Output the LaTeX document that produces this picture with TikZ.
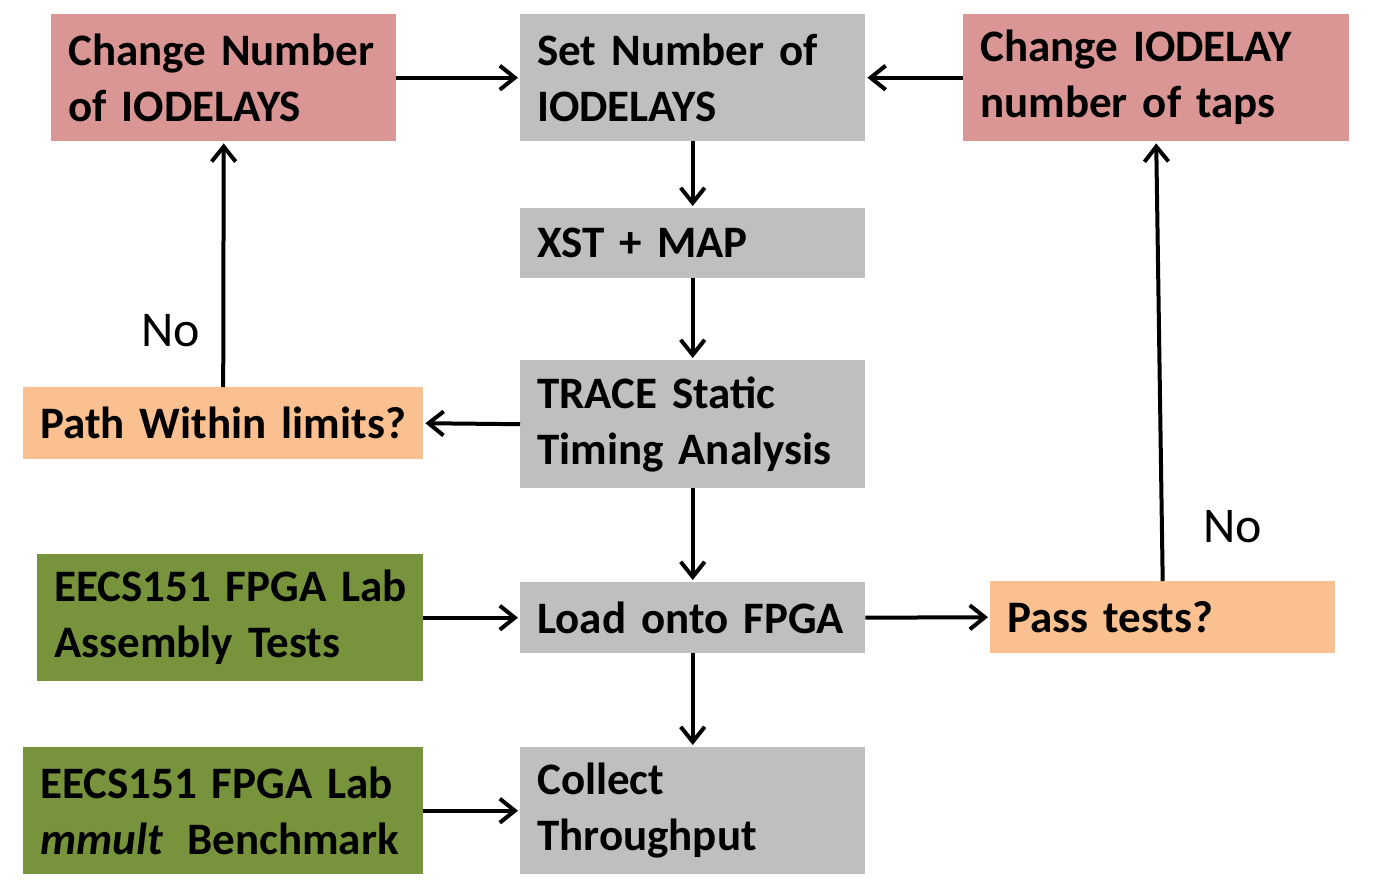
\documentclass[tikz,border=0pt]{standalone}
\usepackage{fontspec}
\setmainfont{Carlito}
\usetikzlibrary{arrows.meta}
\definecolor{redbox}{HTML}{D99694}
\definecolor{graybox}{HTML}{BFBFBF}
\definecolor{orangebox}{HTML}{FAC090}
\definecolor{greenbox}{HTML}{77933C}
\begin{document}
\begin{tikzpicture}[x=1pt,y=-1pt,
  box/.style={anchor=north west, inner xsep=17pt, inner ysep=0pt, align=left,
    font=\fontsize{45}{56}\selectfont\bfseries, text=black},
  redb/.style={box, fill=redbox},
  grayb/.style={box, fill=graybox},
  orangeb/.style={box, fill=orangebox},
  greenb/.style={box, fill=greenbox},
  conn/.style={line width=4pt, -{Straight Barb[length=15pt,width=24pt,line width=4pt]}, shorten >=2pt},
  lbl/.style={font=\fontsize{50}{56}\selectfont, text=black, inner sep=0pt}]
\useasboundingbox (0,0) rectangle (1378,889);
\node[redb, minimum width=345pt, minimum height=127pt, text width=311pt] (cn) at (51,14) {\mbox{Change Number}\\\mbox{of IODELAYS}};
\node[grayb, minimum width=345pt, minimum height=127pt, text width=311pt] (sn) at (520,14) {\mbox{Set Number of}\\\mbox{IODELAYS}};
\node[redb, minimum width=386pt, minimum height=127pt, text width=352pt] (ci) at (963,14) {\mbox{Change IODELAY}\\\mbox{number of taps}};
\node[grayb, minimum width=345pt, minimum height=70pt, text width=311pt] (xst) at (520,208) {\mbox{XST + MAP}};
\node[grayb, minimum width=345pt, minimum height=128pt, text width=311pt] (tr) at (520,360) {\mbox{TRACE Static}\\\mbox{Timing Analysis}};
\node[orangeb, minimum width=400pt, minimum height=72pt, text width=366pt] (pw) at (23,387) {\mbox{Path Within limits?}};
\node[greenb, minimum width=386pt, minimum height=127pt, text width=352pt] (at) at (37,554) {\mbox{EECS151 FPGA Lab}\\\mbox{Assembly Tests}};
\node[grayb, minimum width=345pt, minimum height=71pt, text width=311pt] (lo) at (520,582) {\mbox{Load onto FPGA}};
\node[orangeb, minimum width=345pt, minimum height=72pt, text width=311pt] (pt) at (990,581) {\mbox{Pass tests?}};
\node[greenb, minimum width=400pt, minimum height=127pt, text width=366pt] (mb) at (23,747) {\mbox{EECS151 FPGA Lab}\\\mbox{\textit{mmult}\hspace{24pt}Benchmark}};
\node[grayb, minimum width=345pt, minimum height=127pt, text width=311pt] (ct) at (520,747) {\mbox{Collect}\\\mbox{Throughput}};
\node[lbl] (no1) at (171,331) {No};
\node[lbl] (no2) at (1233,527) {No};
\draw[conn] (cn.east) -- (sn.west);
\draw[conn] (ci.west) -- (sn.east);
\draw[conn] (sn.south) -- (xst.north);
\draw[conn] (xst.south) -- (tr.north);
\draw[conn] (tr.west) -- (pw.east);
\draw[conn] (pw.north) -- (cn.south);
\draw[conn] (tr.south) -- (lo.north);
\draw[conn] (lo.east) -- (pt.west);
\draw[conn] (pt.north) -- (ci.south);
\draw[conn] (lo.south) -- (ct.north);
\draw[conn] (at.east) -- (lo.west);
\draw[conn] (mb.east) -- (ct.west);
\end{tikzpicture}
\end{document}
